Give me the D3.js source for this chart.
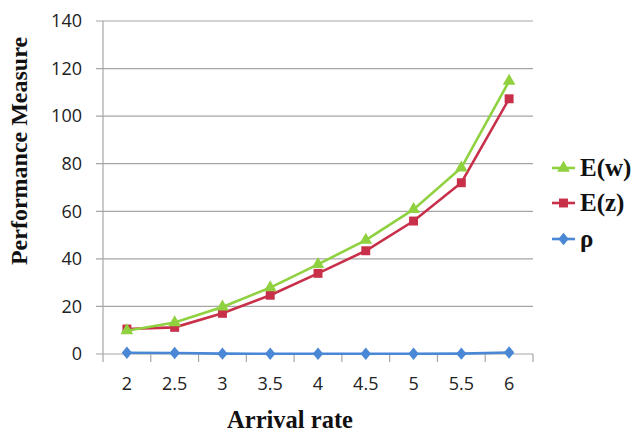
<!DOCTYPE html>
<html><head><meta charset="utf-8">
<script src="https://cdn.jsdelivr.net/npm/d3@7"></script>
<style>body{margin:0;background:#fff}svg{display:block}</style>
</head><body>
<script>
const categories = ["2","2.5","3","3.5","4","4.5","5","5.5","6"];
const ew = [9.8, 13.2, 19.8, 27.9, 37.7, 47.9, 60.8, 78.3, 114.7];
const ez = [10.5, 11.2, 17.1, 24.7, 33.9, 43.4, 55.9, 72.0, 107.3];
const rho = [0.5, 0.45, 0.15, 0.12, 0.1, 0.1, 0.1, 0.15, 0.6];
const yTicks = [0,20,40,60,80,100,120,140];
const seriesNames = ["E(w)","E(z)","ρ"];

(function(){
const W=640,H=439;
const svg=d3.select("body").append("svg").attr("width",W).attr("height",H);
const pl=103,pr=533,pt=21,pb=354;
const x=d3.scaleBand().domain(categories).range([pl,pr]);
const y=d3.scaleLinear().domain([0,140]).range([pb,pt]);

svg.append("g").selectAll("line").data(yTicks).join("line")
  .attr("x1",pl-7).attr("x2",pr).attr("y1",d=>y(d)).attr("y2",d=>y(d))
  .attr("stroke","#a6a6a6").attr("stroke-width",1.2);
svg.append("line").attr("x1",pl).attr("x2",pl).attr("y1",pt).attr("y2",pb)
  .attr("stroke","#a6a6a6").attr("stroke-width",1.2);
const bounds=categories.map(c=>x(c)).concat([pr]);
svg.append("g").selectAll("line").data(bounds).join("line")
  .attr("x1",d=>d).attr("x2",d=>d).attr("y1",pb).attr("y2",pb+8)
  .attr("stroke","#a6a6a6").attr("stroke-width",1.2);

const font="'Open Sans', sans-serif";
svg.append("g").selectAll("text").data(yTicks).join("text")
  .attr("x",pl-21).attr("y",d=>y(d)).attr("dy","0.35em")
  .attr("text-anchor","end").attr("font-family",font).attr("font-size",18)
  .attr("fill","#222").text(d=>d);
svg.append("g").selectAll("text").data(categories).join("text")
  .attr("x",d=>x(d)+x.bandwidth()/2).attr("y",384).attr("dy","0.35em")
  .attr("text-anchor","middle").attr("font-family",font).attr("font-size",18)
  .attr("fill","#222").text(d=>d);

const serif="'Liberation Serif','Times New Roman',serif";
svg.append("text").attr("transform","translate(27,151) rotate(-90)")
  .attr("text-anchor","middle").attr("font-family",serif).attr("font-weight","bold")
  .attr("font-size",24).attr("fill","#111").text("Performance Measure");
svg.append("text").attr("x",290).attr("y",428)
  .attr("text-anchor","middle").attr("font-family",serif).attr("font-weight","bold")
  .attr("font-size",24.5).attr("fill","#111").text("Arrival rate");

const colors={"E(w)":"#8fd13f","E(z)":"#c8304a","ρ":"#4a88d6"};
const data={"E(w)":ew,"E(z)":ez,"ρ":rho};
const cx=c=>x(c)+x.bandwidth()/2;
const line=d3.line().x((d,i)=>cx(categories[i])).y(d=>y(d));
const sym={"E(w)":d3.symbolTriangle,"E(z)":d3.symbolSquare,"ρ":d3.symbolDiamond};
const symSize={"E(w)":70,"E(z)":80,"ρ":55};

function marker(g,name,px,py){
  g.append("path").attr("d",d3.symbol().type(sym[name]).size(symSize[name])())
   .attr("transform",`translate(${px},${py})`+(name==="ρ"?" scale(1.3,0.9)":""))
   .attr("fill",colors[name]);
}
["ρ","E(z)","E(w)"].forEach(name=>{
  const g=svg.append("g");
  g.append("path").datum(data[name]).attr("d",line).attr("fill","none")
   .attr("stroke",colors[name]).attr("stroke-width",2.6);
  data[name].forEach((v,i)=>marker(g,name,cx(categories[i]),y(v)));
});

const legY=[168,203,239];
seriesNames.forEach((name,i)=>{
  const g=svg.append("g");
  g.append("line").attr("x1",552).attr("x2",575).attr("y1",legY[i]).attr("y2",legY[i])
   .attr("stroke",colors[name]).attr("stroke-width",2.6);
  marker(g,name,563.5,legY[i]);
  g.append("text").attr("x",580).attr("y",legY[i]).attr("dy","0.33em")
   .attr("font-family",serif).attr("font-weight","bold").attr("font-size",25)
   .attr("fill","#111").text(name);
});
})();
</script>
</body></html>
